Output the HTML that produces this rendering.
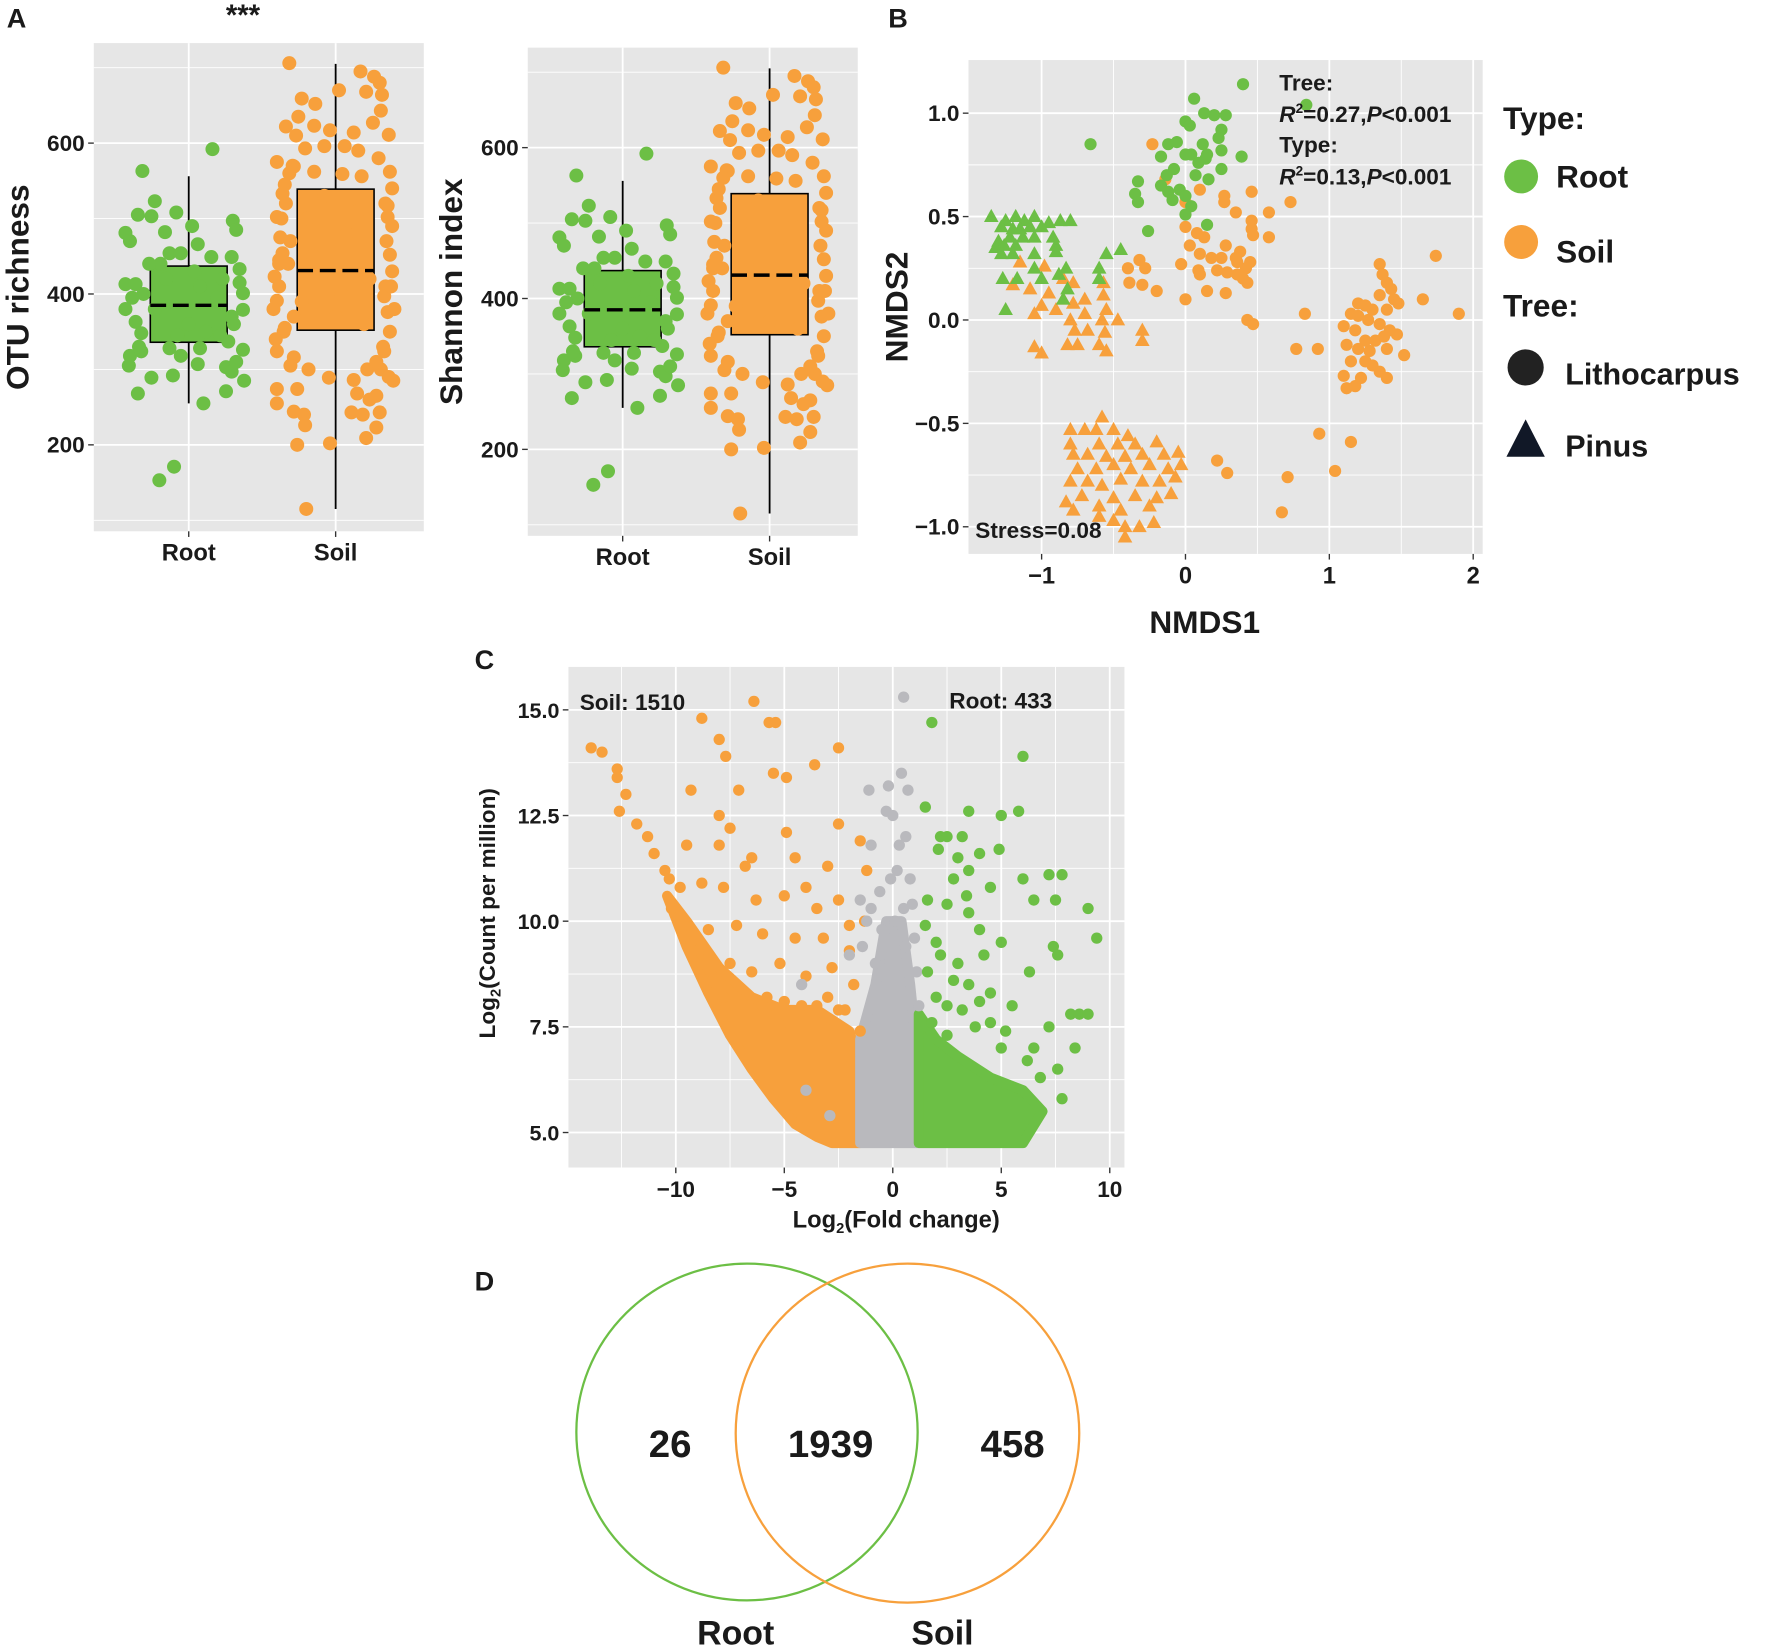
<!DOCTYPE html>
<html><head><meta charset="utf-8">
<style>
html,body{margin:0;padding:0;background:#fff;}
svg{display:block;}
text{font-family:"Liberation Sans Narrow","Liberation Sans",sans-serif;font-weight:bold;fill:#1a1a1a;}
</style></head>
<body>
<svg id="fig" width="1772" height="1648" viewBox="0 0 1568 1458" xmlns="http://www.w3.org/2000/svg">
<text x="6" y="24" font-size="24" font-family="Liberation Sans">A</text>
<text x="786" y="24" font-size="24" font-family="Liberation Sans">B</text>
<text x="420" y="592" font-size="24" font-family="Liberation Sans">C</text>
<text x="420" y="1142" font-size="24" font-family="Liberation Sans">D</text>
<text x="215" y="22" font-size="26" text-anchor="middle">***</text>
</svg>
<script>
// ===== Panel A data (box plots, shared by both panels) =====
const aCategories = ['Root','Soil'];
const aTicks = [200,400,600];
const rootJitter = [21,-41,-30,-45,-33,-11,3,39,42,-56,-52,-21,8,-17,-7,20,38,45,-56,-47,48,-56,-47,48,38,-42,35,-52,-42,-17,-7,10,48,-53,33,38,8,-33,-14,49,-45,33,13,-13,-26,-20,10,25,-30,0,15,-10,30,-40,40,-25,5,-50,45,-35,28,-44,42];
const rootVal = [592,563,523,505,503,508,490,497,485,481,470,482,466,454,454,449,449,433,413,413,401,380,363,379,370,348,337,318,324,328,318,328,326,305,303,297,307,289,292,285,268,271,255,171,153,420,410,395,380,360,350,345,420,400,360,440,430,395,415,440,345,330,310];
const soilJitter = [-41,3,22,34,39,41,27,-30,-18,-33,40,-44,-19,33,47,-5,16,-27,-10,8,20,-52,-37,48,-19,6,23,-47,46,-52,46,-49,48,-47,-54,-52,43,46,-37,-52,-37,-24,-6,16,28,43,51,-52,-34,19,36,-52,-37,14,24,39,-27,36,27,-34,-5,-26,-20,10,30,-30,0,20,-10,25,-25,5,-45,50,-40,45,-50,50,-45,48,-40,40,-50,-42,-55,44,52,-48,38,-38,50,-46,42,-53,47,-44,36,-35,30,-28,-50,49,-41,44];
const soilVal = [706,670,695,688,680,664,668,659,652,635,643,622,623,627,611,617,614,593,596,596,590,575,569,562,562,559,556,533,517,502,502,475,452,454,423,391,397,376,370,324,316,300,289,286,300,324,285,274,274,268,265,255,244,243,240,243,226,223,209,200,202,115,450,480,420,390,370,510,530,360,500,400,545,540,470,470,440,430,355,350,305,300,410,440,380,410,380,500,580,570,490,350,330,340,290,520,310,610,260,240,445,410,560,520];
const rootStats = {q1:336, med:385, q3:437, lo:255, hi:556};
const soilStats = {q1:352, med:431, q3:539, lo:115, hi:705};

// ===== Panel B data (NMDS) =====
const bXTicks = [-1,0,1,2];
const bYTicks = [-1.0,-0.5,0.0,0.5,1.0];
const rootCircles = [[0.40,1.14],[0.06,1.07],[0.13,1.00],[0.20,0.99],[0.28,0.99],[0.0,0.96],[0.03,0.94],[0.25,0.92],[0.23,0.88],[-0.66,0.85],[-0.12,0.85],[-0.06,0.86],[0.12,0.85],[0.04,0.80],[0.0,0.80],[0.15,0.80],[0.25,0.82],[-0.17,0.79],[0.39,0.79],[0.14,0.78],[0.09,0.76],[-0.08,0.73],[-0.13,0.70],[0.25,0.73],[0.07,0.70],[-0.33,0.67],[0.16,0.68],[-0.17,0.65],[-0.12,0.62],[-0.04,0.63],[0.0,0.60],[-0.35,0.61],[-0.09,0.58],[-0.33,0.57],[0.0,0.51],[-0.26,0.43],[0.15,0.46],[0.04,0.55],[0.84,1.04]];
const rootTriangles = [[-1.35,0.50],[-1.25,0.48],[-1.18,0.50],[-1.12,0.48],[-1.05,0.50],[-1.28,0.45],[-1.20,0.44],[-1.15,0.44],[-1.08,0.45],[-1.0,0.45],[-0.95,0.47],[-0.87,0.48],[-0.80,0.48],[-1.3,0.38],[-1.22,0.40],[-1.13,0.40],[-1.05,0.40],[-0.92,0.40],[-1.32,0.35],[-1.26,0.36],[-1.18,0.36],[-0.90,0.36],[-1.28,0.32],[-1.2,0.32],[-1.05,0.32],[-0.9,0.33],[-0.55,0.32],[-0.45,0.34],[-0.6,0.25],[-1.05,0.25],[-0.83,0.25],[-0.88,0.22],[-1.27,0.20],[-1.17,0.20],[-0.6,0.20],[-1.0,0.20],[-0.82,0.15],[-1.25,0.05],[-0.85,0.10]];
const soilCircles = [[-0.23,0.85],[-0.14,0.68],[0.1,0.63],[0.27,0.60],[0.46,0.62],[0.73,0.57],[0.0,0.57],[0.27,0.57],[0.35,0.52],[0.58,0.52],[0.46,0.48],[0.46,0.44],[0.0,0.45],[0.08,0.42],[0.13,0.40],[0.47,0.41],[0.58,0.40],[0.03,0.36],[0.28,0.36],[0.38,0.33],[0.1,0.32],[0.18,0.30],[0.25,0.30],[0.35,0.30],[0.45,0.28],[-0.03,0.27],[0.36,0.28],[0.42,0.25],[-0.4,0.25],[-0.32,0.29],[-0.28,0.25],[0.09,0.24],[0.22,0.24],[0.36,0.22],[0.1,0.22],[0.29,0.23],[0.4,0.2],[-0.39,0.18],[-0.3,0.17],[-0.2,0.14],[0.15,0.14],[0.28,0.13],[0.0,0.10],[0.43,0.18],[0.43,0.0],[0.47,-0.02],[1.35,0.27],[1.37,0.22],[1.4,0.18],[1.43,0.15],[1.45,0.1],[1.35,0.12],[1.2,0.08],[1.25,0.07],[1.3,0.05],[1.4,0.05],[1.48,0.08],[1.15,0.03],[1.2,0.02],[1.27,0.0],[1.35,-0.02],[1.42,-0.05],[1.47,-0.07],[1.1,-0.03],[1.18,-0.05],[1.25,-0.1],[1.32,-0.1],[1.38,-0.08],[1.12,-0.12],[1.2,-0.14],[1.28,-0.15],[1.4,-0.14],[1.15,-0.2],[1.25,-0.2],[1.3,-0.22],[1.35,-0.25],[1.52,-0.17],[1.1,-0.27],[1.22,-0.28],[1.4,-0.28],[1.12,-0.33],[1.18,-0.32],[1.65,0.1],[1.74,0.31],[1.9,0.03],[0.83,0.03],[0.77,-0.14],[0.92,-0.14],[0.93,-0.55],[1.15,-0.59],[0.22,-0.68],[0.29,-0.74],[0.71,-0.76],[1.04,-0.73],[0.67,-0.93]];
const soilTriangles = [[-1.15,0.28],[-0.98,0.26],[-0.85,0.2],[-0.78,0.18],[-1.2,0.17],[-1.08,0.15],[-0.95,0.13],[-0.85,0.1],[-1.0,0.07],[-0.9,0.05],[-0.78,0.08],[-0.7,0.1],[-0.57,0.18],[-0.57,0.12],[-0.55,0.05],[-1.05,0.03],[-0.8,0.0],[-0.7,0.03],[-0.58,0.0],[-0.47,0.0],[-0.77,-0.05],[-0.68,-0.05],[-0.56,-0.06],[-0.3,-0.05],[-0.82,-0.12],[-0.6,-0.12],[-0.3,-0.1],[-1.05,-0.13],[-0.75,-0.12],[-0.55,-0.15],[-1.0,-0.16],[-0.58,-0.47],[-0.8,-0.53],[-0.7,-0.53],[-0.62,-0.53],[-0.5,-0.53],[-0.4,-0.56],[-0.8,-0.6],[-0.6,-0.6],[-0.47,-0.6],[-0.35,-0.6],[-0.2,-0.59],[-0.78,-0.65],[-0.68,-0.65],[-0.55,-0.66],[-0.42,-0.66],[-0.3,-0.65],[-0.15,-0.65],[-0.05,-0.64],[-0.75,-0.72],[-0.62,-0.72],[-0.5,-0.7],[-0.38,-0.72],[-0.25,-0.7],[-0.12,-0.72],[-0.03,-0.7],[-0.8,-0.78],[-0.68,-0.78],[-0.58,-0.8],[-0.45,-0.77],[-0.3,-0.78],[-0.18,-0.78],[-0.07,-0.76],[-0.83,-0.88],[-0.72,-0.85],[-0.5,-0.86],[-0.35,-0.85],[-0.2,-0.86],[-0.1,-0.84],[-0.6,-0.9],[-0.45,-0.92],[-0.25,-0.9],[-0.5,-0.97],[-0.42,-1.0],[-0.22,-0.98],[-0.32,-1.0],[-0.42,-1.05],[-0.6,-0.95],[-0.78,-0.92]];

// ===== Panel C data (volcano) =====
const cXTicks = [-10,-5,0,5,10];
const cYTicks = [5.0,7.5,10.0,12.5,15.0];
const soilOtus = [[-13.9,14.1],[-13.4,14.0],[-12.7,13.6],[-12.7,13.4],[-12.3,13.0],[-12.6,12.6],[-11.8,12.3],[-11.3,12.0],[-11.0,11.6],[-10.5,11.2],[-10.3,11.0],[-8.8,14.8],[-6.4,15.2],[-5.7,14.7],[-5.4,14.7],[-5.5,13.5],[-4.9,13.4],[-2.5,14.1],[-3.6,13.7],[-7.7,13.9],[-8.0,14.3],[-7.1,13.1],[-9.3,13.1],[-8.0,12.5],[-4.9,12.1],[-6.5,11.5],[-7.5,12.2],[-9.5,11.8],[-8.0,11.8],[-6.8,11.3],[-3.0,11.3],[-2.5,12.3],[-1.5,11.9],[-9.8,10.8],[-8.8,10.9],[-7.8,10.8],[-6.3,10.5],[-5.0,10.6],[-4.0,10.8],[-3.5,10.3],[-2.5,10.5],[-8.5,9.8],[-7.2,9.9],[-6.0,9.7],[-4.5,9.6],[-3.2,9.6],[-2.0,9.9],[-7.5,9.0],[-6.5,8.8],[-5.2,9.0],[-4.0,8.7],[-2.8,8.9],[-1.8,8.5],[-5.8,8.2],[-3.5,8.0],[-2.5,7.9],[-4.8,7.6],[-1.5,7.4],[-3.0,7.0],[-2.0,6.8],[-1.2,11.2],[-4.5,11.5],[-2.0,9.3],[-1.3,10.0],[-10.2,10.3],[-9.8,10.0],[-9.3,9.5],[-8.8,9.0],[-8.3,8.6],[-7.8,8.2],[-7.0,8.0],[-6.0,8.0],[-5.0,8.1],[-4.2,8.0],[-3.0,8.2],[-2.2,7.9]];
const soilDense = [[-10.4,10.6],[-9.5,9.4],[-8.5,8.3],[-7.5,7.3],[-6.5,6.5],[-5.5,5.8],[-4.5,5.2],[-3.5,4.9],[-2.8,4.75],[-1.5,4.75],[-1.5,6.5],[-2.0,7.4],[-3.5,7.9],[-5.0,7.9],[-6.5,8.2],[-8.0,8.9],[-9.5,10.0]];
const greyOtus = [[0.5,15.3],[0.4,13.5],[-0.2,13.2],[0.7,13.1],[-1.1,13.1],[-0.3,12.6],[0.6,12.0],[-1.0,11.8],[0.2,11.2],[0.8,11.0],[-1.5,10.5],[-0.6,10.7],[0.9,10.4],[-1.2,10.0],[0.1,10.0],[0.6,9.4],[-2.0,9.2],[-0.8,9.0],[1.1,8.8],[-4.2,8.5],[1.2,8.0],[0.0,12.5],[0.3,11.8],[-0.1,11.0],[-4.0,6.0],[-2.9,5.4],[-1.0,10.3],[-0.5,9.8],[0.5,10.3],[1.0,9.6],[-1.4,9.4]];
const greyDense = [[-1.5,4.75],[1.2,4.75],[1.2,6.5],[0.8,8.5],[0.4,10.0],[-0.3,10.0],[-0.8,8.5],[-1.5,7.2]];
const rootOtus = [[1.8,14.7],[6.0,13.9],[1.5,12.7],[5.8,12.6],[3.5,12.6],[5.0,12.5],[2.2,12.0],[2.5,12.0],[3.2,12.0],[3.0,11.5],[4.0,11.6],[4.9,11.7],[2.8,11.0],[3.5,11.2],[4.5,10.8],[6.5,10.5],[6.0,11.0],[7.2,11.1],[7.8,11.1],[2.5,10.4],[3.5,10.2],[5.0,9.5],[7.5,10.5],[9.0,10.3],[9.4,9.6],[2.0,9.5],[3.0,9.0],[4.2,9.2],[6.3,8.8],[7.4,9.4],[4.5,8.3],[2.8,8.6],[5.5,8.0],[8.2,7.8],[8.6,7.8],[9.0,7.8],[7.2,7.5],[6.5,7.0],[7.6,6.5],[7.8,5.8],[8.4,7.0],[3.5,8.5],[5.0,7.0],[6.2,6.7],[3.8,7.5],[2.5,7.3],[4.5,7.6],[2.0,8.2],[1.6,10.5],[2.1,11.7],[3.4,10.6],[4.0,9.8],[7.6,9.2],[1.6,8.8],[2.2,9.2],[1.8,7.6],[3.2,7.9],[4.0,8.1],[5.2,7.4],[6.8,6.3],[1.5,9.9],[2.5,8.0]];
const rootDense = [[1.2,4.75],[6.0,4.75],[6.9,5.5],[6.0,6.0],[4.5,6.3],[3.0,6.8],[2.0,7.2],[1.2,7.8]];

// ===== Panel D =====
const vennCounts = [26,1939,458];
const vennLabels = ['Root','Soil'];

const NS='http://www.w3.org/2000/svg';
const svg=document.getElementById('fig');
const GREEN='#6cbf45', ORANGE='#f7a03c', GREY='#b9b9bd', BG='#e6e6e6';
function mk(tag,attrs,parent){const e=document.createElementNS(NS,tag);for(const k in attrs)e.setAttribute(k,attrs[k]);(parent||svg).appendChild(e);return e;}

// ---------- Panel A ----------
function boxPanel(ox,oy,title){
  const L=83+ox,R=375+ox,T=38+oy,B=470+oy;
  const y=v=>260+oy-(v-400)*0.6675;
  const x=i=>167+ox+i*130;
  const g=mk('g',{});
  
  
  const bg=mk('rect',{x:L,y:T,width:R-L,height:B-T,fill:BG},g);
  
  
  [100,300,500,700].forEach(v=>{const l=mk('line',{x1:L,x2:R,y1:y(v),y2:y(v),stroke:'#fff','stroke-width':0.8},g);
    
    });
  aTicks.forEach(v=>{const l=mk('line',{x1:L,x2:R,y1:y(v),y2:y(v),stroke:'#fff','stroke-width':1.6},g);
    
    
    mk('line',{x1:L-5,x2:L,y1:y(v),y2:y(v),stroke:'#333','stroke-width':1.2},g);
    const t=mk('text',{x:L-8,y:y(v)+7,'font-size':20,'text-anchor':'end'},g);t.textContent=v;
    
    });
  aCategories.forEach((c,i)=>{const l=mk('line',{x1:x(i),x2:x(i),y1:T,y2:B,stroke:'#fff','stroke-width':1.6},g);
    
    
    mk('line',{x1:x(i),x2:x(i),y1:B,y2:B+5,stroke:'#333','stroke-width':1.2},g);
    const t=mk('text',{x:x(i),y:B+26,'font-size':21,'text-anchor':'middle'},g);t.textContent=c;
    
    });
  const stats=[rootStats,soilStats], cols=[GREEN,ORANGE];
  stats.forEach((s,i)=>{
    const w=mk('line',{x1:x(i),x2:x(i),y1:y(s.hi),y2:y(s.lo),stroke:'#000','stroke-width':1.6},g);
    
    
    const r=mk('rect',{x:x(i)-34,y:y(s.q3),width:68,height:y(s.q1)-y(s.q3),fill:cols[i],stroke:'#000','stroke-width':1.4},g);
    
    
  });
  const pts=[[rootJitter,rootVal,GREEN,0],[soilJitter,soilVal,ORANGE,1]];
  pts.forEach(([jx,vals,col,ci])=>{vals.forEach((v,k)=>{
    const c=mk('circle',{cx:x(ci)+jx[k],cy:y(v),r:6.2,fill:col},g);
    
    });});
  stats.forEach((s,i)=>{const m=mk('line',{x1:x(i)-34,x2:x(i)+34,y1:y(s.med),y2:y(s.med),stroke:'#000','stroke-width':3,'stroke-dasharray':'14 6'},g);
    
    });
  const yt=mk('text',{x:0,y:0,'font-size':28,'text-anchor':'middle',transform:`translate(${L-58},${(T+B)/2}) rotate(-90)`},g);
  yt.textContent=title;
  
  
}
boxPanel(0,0,'OTU richness');
boxPanel(384,4,'Shannon index');

// ---------- Panel B ----------
(function(){
  const L=857,R=1312,T=53,B=490;
  const x=v=>1049+v*127.3, y=v=>283-v*183;
  const g=mk('g',{});
  
  
  const bg=mk('rect',{x:L,y:T,width:R-L,height:B-T,fill:BG},g);
  
  
  [-0.75,-0.25,0.25,0.75].forEach(v=>mk('line',{x1:L,x2:R,y1:y(v),y2:y(v),stroke:'#fff','stroke-width':0.8},g));
  [-0.5,0.5,1.5].forEach(v=>mk('line',{x1:x(v),x2:x(v),y1:T,y2:B,stroke:'#fff','stroke-width':0.8},g));
  bYTicks.forEach(v=>{mk('line',{x1:L,x2:R,y1:y(v),y2:y(v),stroke:'#fff','stroke-width':1.6},g);
    mk('line',{x1:L-5,x2:L,y1:y(v),y2:y(v),stroke:'#333','stroke-width':1.2},g);
    const t=mk('text',{x:L-8,y:y(v)+7,'font-size':20,'text-anchor':'end'},g);t.textContent=v.toFixed(1).replace('-','\u2212');
    
    });
  bXTicks.forEach(v=>{mk('line',{x1:x(v),x2:x(v),y1:T,y2:B,stroke:'#fff','stroke-width':1.6},g);
    mk('line',{x1:x(v),x2:x(v),y1:B,y2:B+5,stroke:'#333','stroke-width':1.2},g);
    const t=mk('text',{x:x(v),y:B+26,'font-size':21,'text-anchor':'middle'},g);t.textContent=String(v).replace('-','\u2212');
    
    });
  function tri(cx,cy,s){return `${cx},${cy-s} ${cx-s*0.95},${cy+s*0.7} ${cx+s*0.95},${cy+s*0.7}`;}
  [[soilCircles,ORANGE],[rootCircles,GREEN]].forEach(([arr,col])=>arr.forEach(p=>{
    const c=mk('circle',{cx:x(p[0]),cy:y(p[1]),r:5.4,fill:col},g);
    
    }));
  [[soilTriangles,ORANGE],[rootTriangles,GREEN]].forEach(([arr,col])=>arr.forEach(p=>{
    const c=mk('polygon',{points:tri(x(p[0]),y(p[1]),6.8),fill:col},g);
    
    }));
  const a1=mk('text',{x:1132,y:80,'font-size':20},g);a1.textContent='Tree:';
  
  
  const a2=mk('text',{x:1132,y:108,'font-size':20},g);
  a2.innerHTML='<tspan font-style="italic">R</tspan><tspan font-size="12" dy="-8">2</tspan><tspan dy="8">=0.27,</tspan><tspan font-style="italic">P</tspan>&lt;0.001';
  
  
  const a3=mk('text',{x:1132,y:135,'font-size':20},g);a3.textContent='Type:';
  
  
  const a4=mk('text',{x:1132,y:163,'font-size':20},g);
  a4.innerHTML='<tspan font-style="italic">R</tspan><tspan font-size="12" dy="-8">2</tspan><tspan dy="8">=0.13,</tspan><tspan font-style="italic">P</tspan>&lt;0.001';
  
  
  const st=mk('text',{x:863,y:476,'font-size':20},g);st.textContent='Stress=0.08';
  
  
  const yt=mk('text',{x:0,y:0,'font-size':28,'text-anchor':'middle',transform:`translate(803,${(T+B)/2}) rotate(-90)`},g);yt.textContent='NMDS2';
  
  
  const xt=mk('text',{x:1066,y:560,'font-size':28,'text-anchor':'middle'},g);xt.textContent='NMDS1';
  
  
  const lg=mk('g',{});
  
  
  const items=[['Type:',1330,114,28],['Root',1377,166,28],['Soil',1377,232,28],['Tree:',1330,280,28],['Lithocarpus',1385,340,27],['Pinus',1385,404,27]];
  items.forEach(it=>{const t=mk('text',{x:it[1],y:it[2],'font-size':it[3]},lg);t.textContent=it[0];
    
    });
  const k1=mk('circle',{cx:1346,cy:156,r:15,fill:GREEN},lg);
  
  
  const k2=mk('circle',{cx:1346,cy:214,r:15,fill:ORANGE},lg);
  
  
  const k3=mk('circle',{cx:1350,cy:325,r:16,fill:'#222'},lg);
  
  
  const k4=mk('polygon',{points:'1350,371 1333,404 1367,404',fill:'#111827'},lg);
  
  
})();

// ---------- Panel C ----------
(function(){
  const L=503,R=995,T=590,B=1033;
  const x=v=>790+v*19.2, y=v=>1002-(v-5)*37.4;
  const g=mk('g',{});
  
  
  const bg=mk('rect',{x:L,y:T,width:R-L,height:B-T,fill:BG},g);
  
  
  [6.25,8.75,11.25,13.75].forEach(v=>mk('line',{x1:L,x2:R,y1:y(v),y2:y(v),stroke:'#fff','stroke-width':0.8},g));
  [-12.5,-7.5,-2.5,2.5,7.5].forEach(v=>mk('line',{x1:x(v),x2:x(v),y1:T,y2:B,stroke:'#fff','stroke-width':0.8},g));
  cYTicks.forEach(v=>{mk('line',{x1:L,x2:R,y1:y(v),y2:y(v),stroke:'#fff','stroke-width':1.6},g);
    mk('line',{x1:L-5,x2:L,y1:y(v),y2:y(v),stroke:'#333','stroke-width':1.2},g);
    const t=mk('text',{x:L-8,y:y(v)+7,'font-size':19,'text-anchor':'end'},g);t.textContent=v.toFixed(1);
    
    });
  cXTicks.forEach(v=>{mk('line',{x1:x(v),x2:x(v),y1:T,y2:B,stroke:'#fff','stroke-width':1.6},g);
    mk('line',{x1:x(v),x2:x(v),y1:B,y2:B+5,stroke:'#333','stroke-width':1.2},g);
    const t=mk('text',{x:x(v),y:B+26,'font-size':20,'text-anchor':'middle'},g);t.textContent=String(v).replace('-','\u2212');
    
    });
  [[soilDense,ORANGE,'soil-dense-region'],[greyDense,GREY,'ns-dense-region'],[rootDense,GREEN,'root-dense-region']].forEach(([arr,col,nm])=>{
    const p=mk('polygon',{points:arr.map(q=>x(q[0])+','+y(q[1])).join(' '),fill:col,stroke:col,'stroke-width':9,'stroke-linejoin':'round'},g);
    
    });
  [[soilOtus,ORANGE],[greyOtus,GREY],[rootOtus,GREEN]].forEach(([arr,col])=>arr.forEach(q=>{
    const c=mk('circle',{cx:x(q[0]),cy:y(q[1]),r:5,fill:col},g);
    
    }));
  const s1=mk('text',{x:513,y:628,'font-size':20},g);s1.textContent='Soil: 1510';
  
  
  const s2=mk('text',{x:840,y:627,'font-size':20},g);s2.textContent='Root: 433';
  
  
  const yt=mk('text',{x:0,y:0,'font-size':20,'text-anchor':'middle',transform:`translate(438,808) rotate(-90)`},g);
  yt.innerHTML='Log<tspan font-size="13" dy="5">2</tspan><tspan dy="-5">(Count per million)</tspan>';
  
  
  const xt=mk('text',{x:793,y:1086,'font-size':21,'text-anchor':'middle'},g);
  xt.innerHTML='Log<tspan font-size="13" dy="5">2</tspan><tspan dy="-5">(Fold change)</tspan>';
  
  
})();

// ---------- Panel D ----------
(function(){
  const g=mk('g',{});
  
  
  const c1=mk('ellipse',{cx:661,cy:1267,rx:151,ry:149,fill:'none',stroke:GREEN,'stroke-width':2},g);
  
  
  const c2=mk('ellipse',{cx:803,cy:1268,rx:152,ry:150,fill:'none',stroke:ORANGE,'stroke-width':2},g);
  
  
  const pos=[593,735,896];
  vennCounts.forEach((v,i)=>{const t=mk('text',{x:pos[i],y:1289,'font-size':34,'text-anchor':'middle'},g);t.textContent=v;
    
    });
  const lp=[651,834];
  vennLabels.forEach((v,i)=>{const t=mk('text',{x:lp[i],y:1455,'font-size':30,'text-anchor':'middle'},g);t.textContent=v;
    
    });
})();
</script>
</body></html>
